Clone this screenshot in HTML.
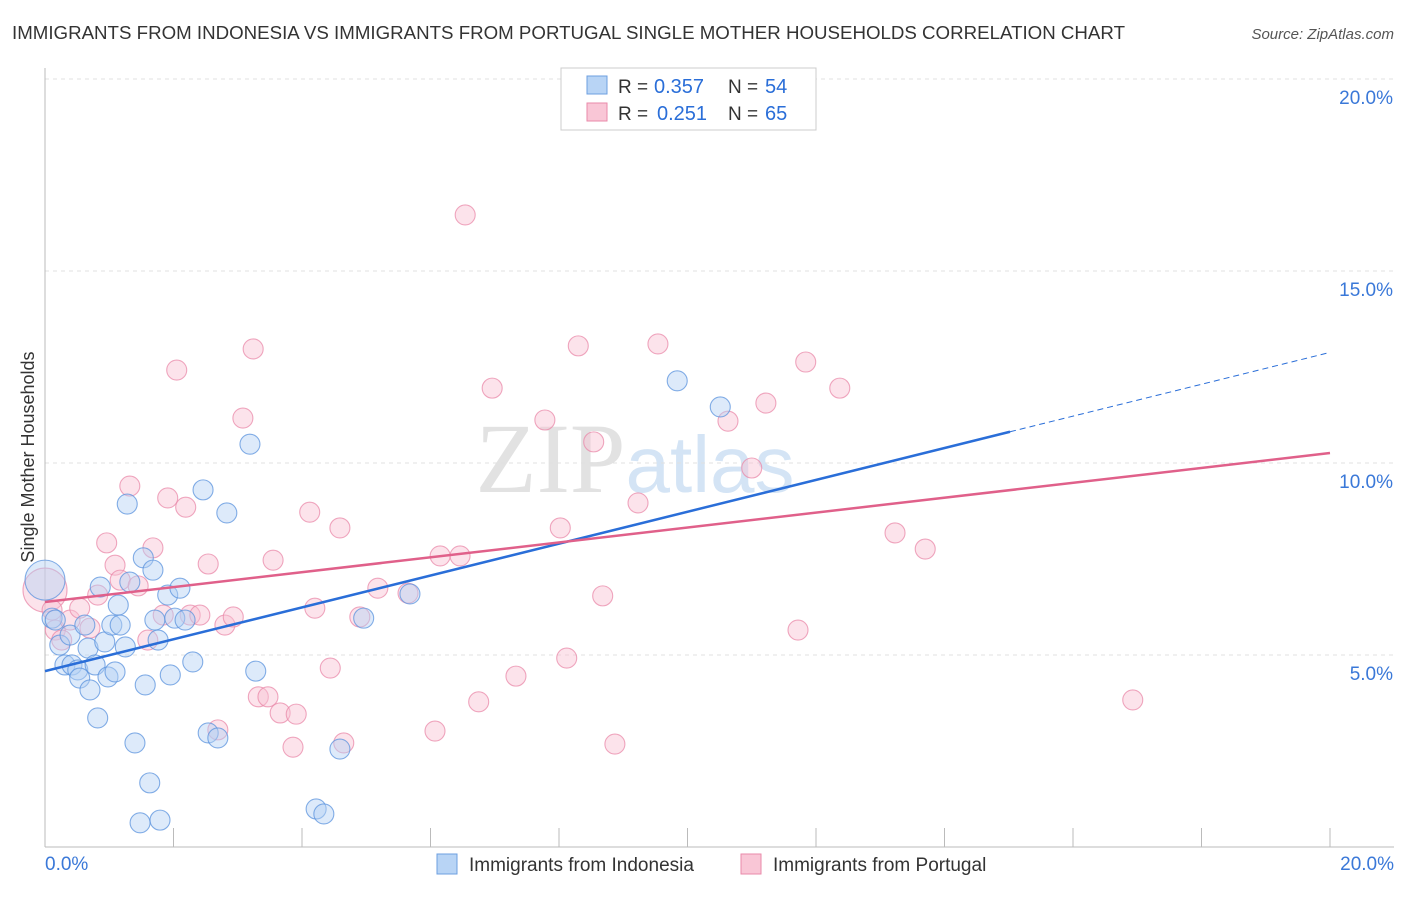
<!DOCTYPE html>
<html><head><meta charset="utf-8"><style>
body{margin:0;background:#fff;font-family:"Liberation Sans",sans-serif}
</style></head><body>
<svg width="1406" height="892" xmlns="http://www.w3.org/2000/svg" id="svg">
<text x="12" y="39" font-size="18" fill="#333" textLength="1113" lengthAdjust="spacingAndGlyphs">IMMIGRANTS FROM INDONESIA VS IMMIGRANTS FROM PORTUGAL SINGLE MOTHER HOUSEHOLDS CORRELATION CHART</text>
<text x="1394" y="39" font-size="15" fill="#555" font-style="italic" text-anchor="end">Source: ZipAtlas.com</text>
<text x="34" y="457" font-size="18" fill="#333" transform="rotate(-90 34 457)" text-anchor="middle">Single Mother Households</text>
<text x="635" y="492" font-size="100" fill="#e2e2e2" font-family="Liberation Serif" text-anchor="middle">ZIP<tspan fill="#d4e4f5" font-family="Liberation Sans" font-size="80">atlas</tspan></text>
<g id="grid"></g><g id="marks"></g>
<g>
<rect x="561" y="68" width="255" height="62" fill="#fff" stroke="#ccc"/>
<rect x="587" y="76" width="20" height="18" fill="#b8d4f5" stroke="#6d9fe0"/>
<rect x="587" y="103" width="20" height="18" fill="#f9c6d6" stroke="#e98aaa"/>
<text x="618" y="93" font-size="19" fill="#333">R =</text>
<text x="654" y="93" font-size="20" fill="#2a6ed8">0.357</text>
<text x="728" y="93" font-size="19" fill="#333">N =</text>
<text x="765" y="93" font-size="20" fill="#2a6ed8">54</text>
<text x="618" y="120" font-size="19" fill="#333">R =</text>
<text x="657" y="120" font-size="20" fill="#2a6ed8">0.251</text>
<text x="728" y="120" font-size="19" fill="#333">N =</text>
<text x="765" y="120" font-size="20" fill="#2a6ed8">65</text>
</g>
<g>
<rect x="437" y="854" width="20" height="20" fill="#b8d4f5" stroke="#6d9fe0"/>
<text x="469" y="871" font-size="19" fill="#333">Immigrants from Indonesia</text>
<rect x="741" y="854" width="20" height="20" fill="#f9c6d6" stroke="#e98aaa"/>
<text x="773" y="871" font-size="19" fill="#333">Immigrants from Portugal</text>
</g>
</svg>
<script>
const yTicks=[5,10,15,20];
const xTickLabels=["0.0%","20.0%"];
const blueX=[0,0.11,0.16,0.23,0.31,0.39,0.42,0.51,0.54,0.62,0.67,0.70,0.78,0.82,0.86,0.93,0.98,1.04,1.09,1.14,1.17,1.25,1.28,1.32,1.40,1.48,1.53,1.56,1.63,1.68,1.71,1.76,1.79,1.91,1.95,2.02,2.10,2.18,2.30,2.46,2.54,2.69,2.83,3.19,3.28,4.22,4.34,4.59,4.96,5.68,9.84,10.51];
const blueY=[6.95,5.96,5.91,5.26,4.74,5.52,4.74,4.61,4.40,5.78,5.18,4.09,4.74,3.36,6.77,5.34,4.43,5.78,4.56,6.30,5.78,5.21,8.93,6.90,2.71,0.63,7.53,4.22,1.67,7.21,5.91,5.39,0.70,6.56,4.48,5.96,6.74,5.91,4.82,9.30,2.97,2.84,8.70,10.49,4.58,0.99,0.86,2.55,5.96,6.59,12.14,11.46];
const pinkX=[0,0.11,0.16,0.26,0.39,0.54,0.70,0.82,0.96,1.09,1.17,1.32,1.45,1.60,1.68,1.84,1.91,2.05,2.19,2.26,2.41,2.54,2.69,2.80,2.93,3.08,3.24,3.32,3.47,3.55,3.66,3.86,3.91,4.12,4.20,4.44,4.59,4.65,4.90,5.18,5.65,6.07,6.15,6.46,6.54,6.75,6.96,7.33,7.78,8.02,8.12,8.30,8.54,8.68,8.87,9.23,9.54,10.63,11.00,11.22,11.72,11.84,12.37,13.23,13.70,16.93];
const pinkY=[6.69,6.17,5.65,5.39,5.91,6.22,5.70,6.56,7.92,7.34,6.95,9.40,6.80,5.39,7.79,6.04,9.09,12.42,8.85,6.04,6.04,7.37,3.05,5.78,5.99,11.17,12.97,3.91,3.91,7.47,3.49,2.60,3.46,8.72,6.22,4.66,8.31,2.71,5.99,6.74,6.61,3.02,7.58,7.58,16.46,3.78,11.95,4.45,11.12,8.31,4.92,13.05,10.55,6.54,2.68,8.96,13.10,11.09,9.87,11.56,5.65,12.63,11.95,8.18,7.76,3.83];
const blueTrend=[4.58,12.88]; const blueSolidEnd=15.02;
const pinkTrend=[6.38,10.26];
const NS="http://www.w3.org/2000/svg";
const X=v=>45+v/20*1285, Y=v=>847-v*38.4;
function mk(t,a,p){const e=document.createElementNS(NS,t);for(const k in a)e.setAttribute(k,a[k]);p.appendChild(e);return e;}
const g=document.getElementById('grid'),m=document.getElementById('marks');
yTicks.forEach(t=>{
 const l=mk('line',{x1:45,x2:1394,y1:Y(t),y2:Y(t),stroke:'#e0e0e0','stroke-dasharray':'4,4'},g);
 
 
 const tx=mk('text',{x:1393,y:Y(t)+25,'font-size':19,fill:'#3a78d8','text-anchor':'end'},g);
 tx.textContent=t.toFixed(1)+'%';
 
 
});
mk('line',{x1:45,x2:45,y1:68,y2:847,stroke:'#bbb'},g);
mk('line',{x1:45,x2:1394,y1:847,y2:847,stroke:'#bbb'},g);
for(let i=1;i<=10;i++){const t=mk('line',{x1:X(i*2),x2:X(i*2),y1:828,y2:847,stroke:'#bbb'},g);
 
 }
[[0,'start',45],[20,'end',1394]].forEach((d,i)=>{const t=mk('text',{x:d[2],y:870,'font-size':19,fill:'#3a78d8','text-anchor':d[1]},g);t.textContent=xTickLabels[i];
 
 });
function pts(xs,ys,fill,stroke,name){xs.forEach((x,i)=>{const r=i===0?(name==='pink-point'?22:20):10;
 const c=mk('circle',{cx:X(x),cy:Y(ys[i]),r:r,fill:fill,'fill-opacity':0.45,stroke:stroke,'stroke-opacity':0.75,'stroke-width':1.1},m);
 
 });}
pts(pinkX,pinkY,'#f9c0d2','#e98aaa','pink-point');
pts(blueX,blueY,'#b4d0f3','#5b93dd','blue-point');
const slope=(blueTrend[1]-blueTrend[0])/20;
let l=mk('line',{x1:X(0),y1:Y(blueTrend[0]),x2:X(blueSolidEnd),y2:Y(blueTrend[0]+slope*blueSolidEnd),stroke:'#2a6ed8','stroke-width':2.5},m);


l=mk('line',{x1:X(blueSolidEnd),y1:Y(blueTrend[0]+slope*blueSolidEnd),x2:X(20),y2:Y(blueTrend[1]),stroke:'#2a6ed8','stroke-width':1,'stroke-dasharray':'6,4'},m);


l=mk('line',{x1:X(0),y1:Y(pinkTrend[0]),x2:X(20),y2:Y(pinkTrend[1]),stroke:'#e0608a','stroke-width':2.5},m);


</script>
</body></html>
